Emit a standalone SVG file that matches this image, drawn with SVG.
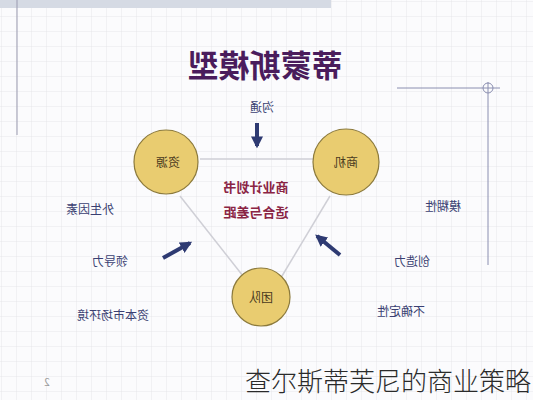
<svg xmlns="http://www.w3.org/2000/svg" width="533" height="400" viewBox="0 0 533 400">
<defs>
<pattern id="grid" width="15" height="15" patternUnits="userSpaceOnUse" x="2" y="2">
<path d="M15 0V15M0 15H15" fill="none" stroke="#e6e6ea" stroke-width="1"/>
</pattern>
<marker id="ah" viewBox="0 0 10 10" refX="8" refY="5" markerWidth="3" markerHeight="3" orient="auto">
<path d="M0 0L10 5L0 10z" fill="#2e3a72"/>
</marker>
<style>
.m{font-family:"Noto Sans CJK SC","Noto Sans",sans-serif;text-anchor:middle}
.lbl{font-size:12px;fill:#3a3f72}
.ctr{font-size:13px;fill:#8a2444;font-weight:bold}
.node{fill:#e9cc70;stroke:#8c7a3c;stroke-width:1.2}
.nt{font-size:12px;fill:#4a3a20}
.edge{stroke:#cfcfd6;stroke-width:1.5;fill:none}
.arr{stroke:#2e3a72;stroke-width:4;fill:none}
</style>
</defs>
<rect width="533" height="400" fill="#fbfbfd"/>
<rect width="533" height="400" fill="url(#grid)"/>
<rect x="0" y="0" width="331" height="8" fill="#d5dae4"/>
<line x1="17" y1="0" x2="17" y2="135" stroke="#9a9ab0" stroke-width="1"/>
<line x1="397" y1="88" x2="500" y2="88" stroke="#8a8eb0" stroke-width="1"/>
<line x1="488" y1="82" x2="488" y2="265" stroke="#8a8eb0" stroke-width="1"/>
<circle cx="488" cy="88" r="5" fill="none" stroke="#8a8eb0" stroke-width="1"/>

<text class="m" transform="translate(265,77) scale(-1,1)" font-size="31" font-weight="bold" fill="#4a1c5c">蒂蒙斯模型</text>

<g id="connectors">
<line class="edge" x1="200" y1="159" x2="313" y2="159"/>
<line class="edge" x1="180" y1="196" x2="243" y2="276"/>
<line class="edge" x1="330" y1="196" x2="282" y2="276"/>
<line class="arr" x1="257" y1="123" x2="257" y2="146" marker-end="url(#ah)"/>
<line class="arr" x1="163" y1="258" x2="190" y2="243" marker-end="url(#ah)"/>
<line class="arr" x1="340" y1="255" x2="317" y2="236" marker-end="url(#ah)"/>
</g>

<g id="node-ziyuan">
<circle class="node" cx="166" cy="162" r="32"/>
<text class="m nt" transform="translate(168,167) scale(-1,1)">资源</text>
</g>
<g id="node-shangji">
<circle class="node" cx="346" cy="162" r="33"/>
<text class="m nt" transform="translate(346,167) scale(-1,1)">商机</text>
</g>
<g id="node-tuandui">
<circle class="node" cx="261" cy="297" r="29"/>
<text class="m nt" transform="translate(261,302) scale(-1,1)">团队</text>
</g>

<g id="labels">
<text class="m lbl" transform="translate(262,112) scale(-1,1)">沟通</text>
<text class="m ctr" transform="translate(256,192) scale(-1,1)">商业计划书</text>
<text class="m ctr" transform="translate(256,217) scale(-1,1)">适合与差距</text>
<text class="m lbl" transform="translate(90,214) scale(-1,1)">外生因素</text>
<text class="m lbl" transform="translate(110,266) scale(-1,1)">领导力</text>
<text class="m lbl" transform="translate(113,320) scale(-1,1)">资本市场环境</text>
<text class="m lbl" transform="translate(443,211) scale(-1,1)">模糊性</text>
<text class="m lbl" transform="translate(412,266) scale(-1,1)">创造力</text>
<text class="m lbl" transform="translate(401,316) scale(-1,1)">不确定性</text>
<text class="m" transform="translate(47,386) scale(-1,1)" font-size="10" fill="#9a9a9a">2</text>
</g>

<text x="531" y="391" font-family="'Noto Sans CJK SC',sans-serif" font-size="26" font-weight="300" fill="#2a2a2a" text-anchor="end">查尔斯蒂芙尼的商业策略</text>
</svg>
